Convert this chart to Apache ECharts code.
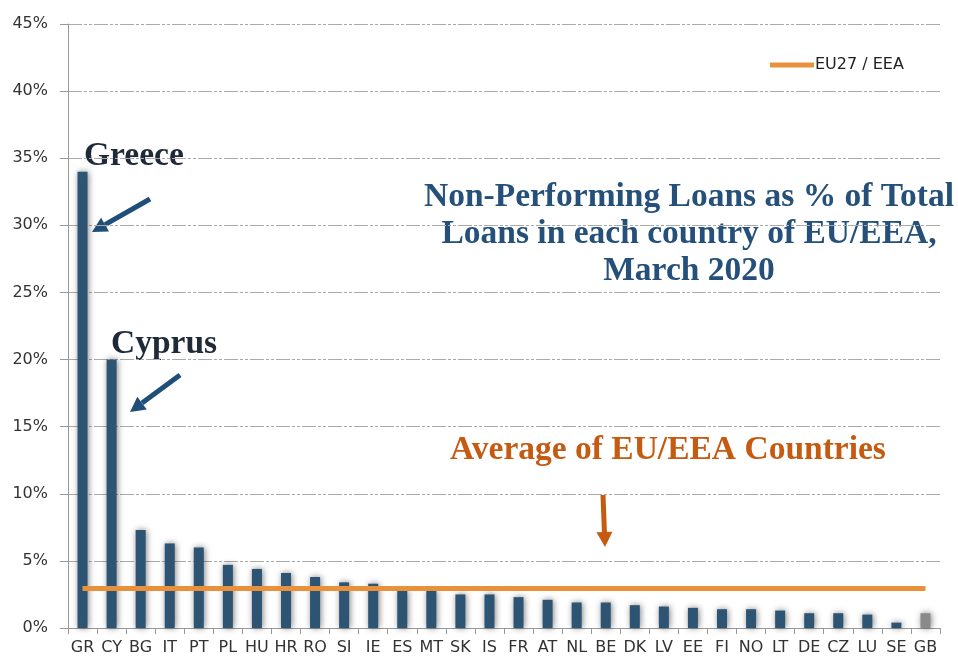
<!DOCTYPE html>
<html>
<head>
<meta charset="utf-8">
<script src="https://cdn.jsdelivr.net/npm/echarts@6/dist/echarts.min.js"></script>
<style>
  html, body { margin: 0; padding: 0; background: #fff; }
  #chart { width: 958px; height: 660px; }
</style>
</head>
<body>
<div id="chart"></div>
<script>
// Pays (codes) et taux de prêts non performants, mars 2020
const countries = ['GR', 'CY', 'BG', 'IT', 'PT', 'PL', 'HU', 'HR', 'RO', 'SI', 'IE', 'ES', 'MT', 'SK', 'IS',
  'FR', 'AT', 'NL', 'BE', 'DK', 'LV', 'EE', 'FI', 'NO', 'LT', 'DE', 'CZ', 'LU', 'SE', 'GB'];
const nplRatio = [34.0, 20.0, 7.3, 6.3, 6.0, 4.7, 4.4, 4.1, 3.8, 3.4, 3.3, 2.8, 2.8, 2.5, 2.5,
  2.3, 2.1, 1.9, 1.9, 1.7, 1.6, 1.5, 1.4, 1.4, 1.3, 1.1, 1.1, 1.0, 0.4, 1.1];
const euAverage = 2.95;
const yTicks = [0, 5, 10, 15, 20, 25, 30, 35, 40, 45];

const chart = echarts.init(document.getElementById('chart'));

// Flèche d'annotation : trait + pointe
function arrow(x1, y1, x2, y2, color) {
  const dx = x2 - x1, dy = y2 - y1;
  const len = Math.sqrt(dx * dx + dy * dy);
  const ux = dx / len, uy = dy / len;
  const head = 15, half = 8;
  const bx = x2 - ux * head, by = y2 - uy * head;
  return [
    {
      type: 'line',
      shape: { x1: x1, y1: y1, x2: bx, y2: by },
      style: { stroke: color, lineWidth: 5 }
    },
    {
      type: 'polygon',
      shape: { points: [[x2, y2], [bx - uy * half, by + ux * half], [bx + uy * half, by - ux * half]] },
      style: { fill: color }
    }
  ];
}

const serifBold = 'bold 33.5px "Liberation Serif", serif';
const gridDash = [14, 2, 3, 2, 3, 2];

const option = {
  animation: false,
  backgroundColor: '#fff',
  grid: { left: 68, right: 18, top: 24, bottom: 32 },
  legend: {
    left: 765,
    top: 52,
    icon: 'rect',
    itemWidth: 44,
    itemHeight: 5,
    itemGap: 0,
    textStyle: { fontFamily: 'DejaVu Sans', fontSize: 16, color: '#222', padding: [0, 0, 0, -4] },
    data: ['EU27 / EEA']
  },
  xAxis: {
    type: 'category',
    data: countries,
    axisLine: { lineStyle: { color: '#999' } },
    axisTick: { show: true, length: 6, lineStyle: { color: '#999' } },
    axisLabel: { fontFamily: 'DejaVu Sans', fontSize: 16, color: '#333', margin: 12, interval: 0 }
  },
  yAxis: {
    type: 'value',
    min: 0,
    max: 45,
    interval: 5,
    axisLine: { show: true, lineStyle: { color: '#999' } },
    axisTick: { show: true, length: 8, lineStyle: { color: '#999' } },
    axisLabel: {
      fontFamily: 'DejaVu Sans', fontSize: 16, color: '#333', margin: 20,
      formatter: function (v) { return yTicks.indexOf(v) >= 0 ? v + '%' : ''; }
    },
    splitLine: { lineStyle: { color: '#aaa', type: gridDash } }
  },
  series: [
    {
      name: 'NPL',
      type: 'bar',
      barWidth: 10,
      data: countries.map(function (c, i) {
        return {
          value: nplRatio[i],
          itemStyle: c === 'GB' ? { color: '#8a8a8a' } : undefined
        };
      }),
      itemStyle: {
        color: '#2e5474',
        shadowBlur: 6,
        shadowColor: 'rgba(0, 0, 0, 0.5)',
        shadowOffsetX: 1
      }
    },
    {
      name: 'EU27 / EEA',
      type: 'line',
      data: [],
      symbol: 'none',
      lineStyle: { color: '#e8913a', width: 5 },
      itemStyle: { color: '#e8913a' },
      markLine: {
        silent: true,
        symbol: ['none', 'none'],
        label: { show: false },
        lineStyle: { color: '#e8913a', width: 5, type: 'solid' },
        data: [[{ coord: [countries[0], euAverage] }, { coord: [countries[countries.length - 1], euAverage] }]]
      }
    }
  ],
  graphic: [
    {
      type: 'text', left: 84, top: 139,
      style: { text: 'Greece', font: serifBold, fill: '#1f2a38' }
    },
    {
      type: 'text', left: 111, top: 327,
      style: { text: 'Cyprus', font: serifBold, fill: '#1f2a38' }
    },
    {
      type: 'text', x: 689, y: 179,
      style: {
        text: 'Non-Performing Loans as % of Total\nLoans in each country of EU/EEA,\nMarch 2020',
        font: serifBold, fill: '#24507a', align: 'center', lineHeight: 37
      }
    },
    {
      type: 'text', x: 668, y: 433,
      style: { text: 'Average of EU/EEA Countries', font: serifBold, fill: '#c55a11', align: 'center' }
    }
  ]
    .concat(arrow(150, 199, 92, 232, '#1f4e79'))
    .concat(arrow(180, 375, 130, 412, '#1f4e79'))
    .concat(arrow(603, 495, 605, 547, '#c55a11'))
};

chart.setOption(option);
</script>
</body>
</html>
